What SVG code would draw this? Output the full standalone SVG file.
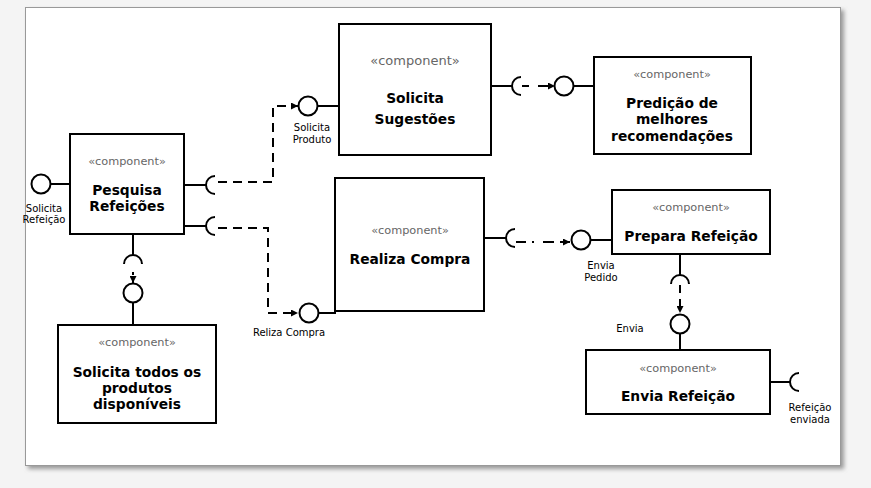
<svg xmlns="http://www.w3.org/2000/svg" width="871" height="488" viewBox="0 0 871 488">
<defs>
<style>
.box{fill:#fff;stroke:#000;stroke-width:2}
.ln{fill:none;stroke:#000;stroke-width:2}
.dash{fill:none;stroke:#000;stroke-width:2;stroke-dasharray:9 6}
.ball{fill:#fff;stroke:#000;stroke-width:2}
.st{font-family:"DejaVu Sans",sans-serif;fill:#666;text-anchor:middle}
.nm{font-family:"DejaVu Sans",sans-serif;font-weight:bold;fill:#000;text-anchor:middle;font-size:13.8px}
.lb{font-family:"DejaVu Sans",sans-serif;fill:#000;text-anchor:middle;font-size:10px}
</style>
<marker id="ah" viewBox="0 0 10 10" refX="10" refY="5" markerWidth="3.5" markerHeight="3.5" orient="auto" markerUnits="strokeWidth">
<path d="M0,0 L10,5 L0,10 z" fill="#000"/>
</marker>
<filter id="sh" x="-5%" y="-5%" width="110%" height="110%">
<feGaussianBlur stdDeviation="2"/>
</filter>
</defs>
<rect x="0" y="0" width="871" height="488" fill="#f4f4f4"/>
<rect x="28" y="10" width="816" height="459" fill="#999" filter="url(#sh)"/>
<rect x="25.5" y="7.5" width="815" height="458" fill="#fff" stroke="#999" stroke-width="1"/>

<g id="connectors">
<path class="dash" d="M218,182 H273 V106 H298" marker-end="url(#ah)"/>
<path class="dash" d="M218,228 H268 V313 H298" marker-end="url(#ah)"/>
<path class="ln" d="M522,86 H555" stroke-dasharray="7 9 3 0" marker-end="url(#ah)"/>
<path class="ln" d="M516,242 H570" stroke-dasharray="10 6 2 9 11 6" marker-end="url(#ah)"/>
<path class="ln" d="M133,266 V283" stroke-dasharray="0 6 3 0" marker-end="url(#ah)"/>
<path class="ln" d="M680,285 V313" stroke-dasharray="8 6 3 0" marker-end="url(#ah)"/>
</g>

<g id="pesquisa">
<rect class="box" x="70" y="134" width="114" height="100"/>
<path class="ln" d="M51,184 H70"/>
<circle class="ball" cx="41" cy="184" r="9.5"/>
<text class="lb" x="44" y="212">Solicita</text>
<text class="lb" x="44" y="223">Refeição</text>
<path class="ln" d="M184,185 H206 M215,176 A9,9 0 0 0 215,194"/>
<path class="ln" d="M184,226 H206 M215,217 A9,9 0 0 0 215,235"/>
<path class="ln" d="M133,234 V255 M124,264 A9,9 0 0 1 142,264"/>
<text class="st" x="127" y="165" font-size="11.3">«component»</text>
<text class="nm" x="127" y="195">Pesquisa</text>
<text class="nm" x="127" y="211">Refeições</text>
</g>

<g id="solicita-sugestoes">
<rect class="box" x="339" y="24" width="152" height="131"/>
<path class="ln" d="M318,106 H339"/>
<circle class="ball" cx="308" cy="106" r="9.5"/>
<text class="lb" x="312" y="131">Solicita</text>
<text class="lb" x="312" y="143">Produto</text>
<path class="ln" d="M491,86 H512 M521,77 A9,9 0 0 0 521,95"/>
<text class="st" x="415" y="65" font-size="13">«component»</text>
<text class="nm" x="415" y="103" font-size="14.6">Solicita</text>
<text class="nm" x="415" y="124" font-size="14.6">Sugestões</text>
</g>

<g id="predicao">
<rect class="box" x="594" y="57" width="157" height="97"/>
<path class="ln" d="M574,86 H594"/>
<circle class="ball" cx="564" cy="86" r="9.5"/>
<text class="st" x="672" y="78" font-size="11.3">«component»</text>
<text class="nm" x="672" y="108">Predição de</text>
<text class="nm" x="672" y="124">melhores</text>
<text class="nm" x="672" y="141">recomendações</text>
</g>

<g id="realiza-compra">
<rect class="box" x="335" y="178" width="149" height="133"/>
<path class="ln" d="M319,313 H336"/>
<circle class="ball" cx="309" cy="313" r="9.5"/>
<text class="lb" x="289" y="336">Reliza Compra</text>
<path class="ln" d="M484,238 H506 M515,229 A9,9 0 0 0 515,247"/>
<text class="st" x="410" y="234" font-size="11.3">«component»</text>
<text class="nm" x="410" y="264">Realiza Compra</text>
</g>

<g id="prepara-refeicao">
<rect class="box" x="612" y="190" width="158" height="64"/>
<path class="ln" d="M591,240 H612"/>
<circle class="ball" cx="581" cy="240" r="9.5"/>
<text class="lb" x="601" y="269">Envia</text>
<text class="lb" x="601" y="281">Pedido</text>
<path class="ln" d="M680,254 V275 M671,284 A9,9 0 0 1 689,284"/>
<text class="st" x="691" y="211" font-size="11.3">«component»</text>
<text class="nm" x="691" y="241">Prepara Refeição</text>
</g>

<g id="envia-refeicao">
<rect class="box" x="586" y="350" width="184" height="64"/>
<path class="ln" d="M680,334 V350"/>
<circle class="ball" cx="680" cy="324" r="9.5"/>
<text class="lb" x="630" y="332">Envia</text>
<path class="ln" d="M770,382 H790 M799,373 A9,9 0 0 0 799,391"/>
<text class="lb" x="810" y="411">Refeição</text>
<text class="lb" x="810" y="423">enviada</text>
<text class="st" x="678" y="372" font-size="11.3">«component»</text>
<text class="nm" x="678" y="401">Envia Refeição</text>
</g>

<g id="solicita-todos">
<rect class="box" x="58" y="325" width="158" height="98"/>
<path class="ln" d="M133,303 V325"/>
<circle class="ball" cx="133" cy="293" r="9.5"/>
<text class="st" x="137" y="346" font-size="11.3">«component»</text>
<text class="nm" x="137" y="377">Solicita todos os</text>
<text class="nm" x="137" y="393">produtos</text>
<text class="nm" x="137" y="409">disponíveis</text>
</g>
</svg>
